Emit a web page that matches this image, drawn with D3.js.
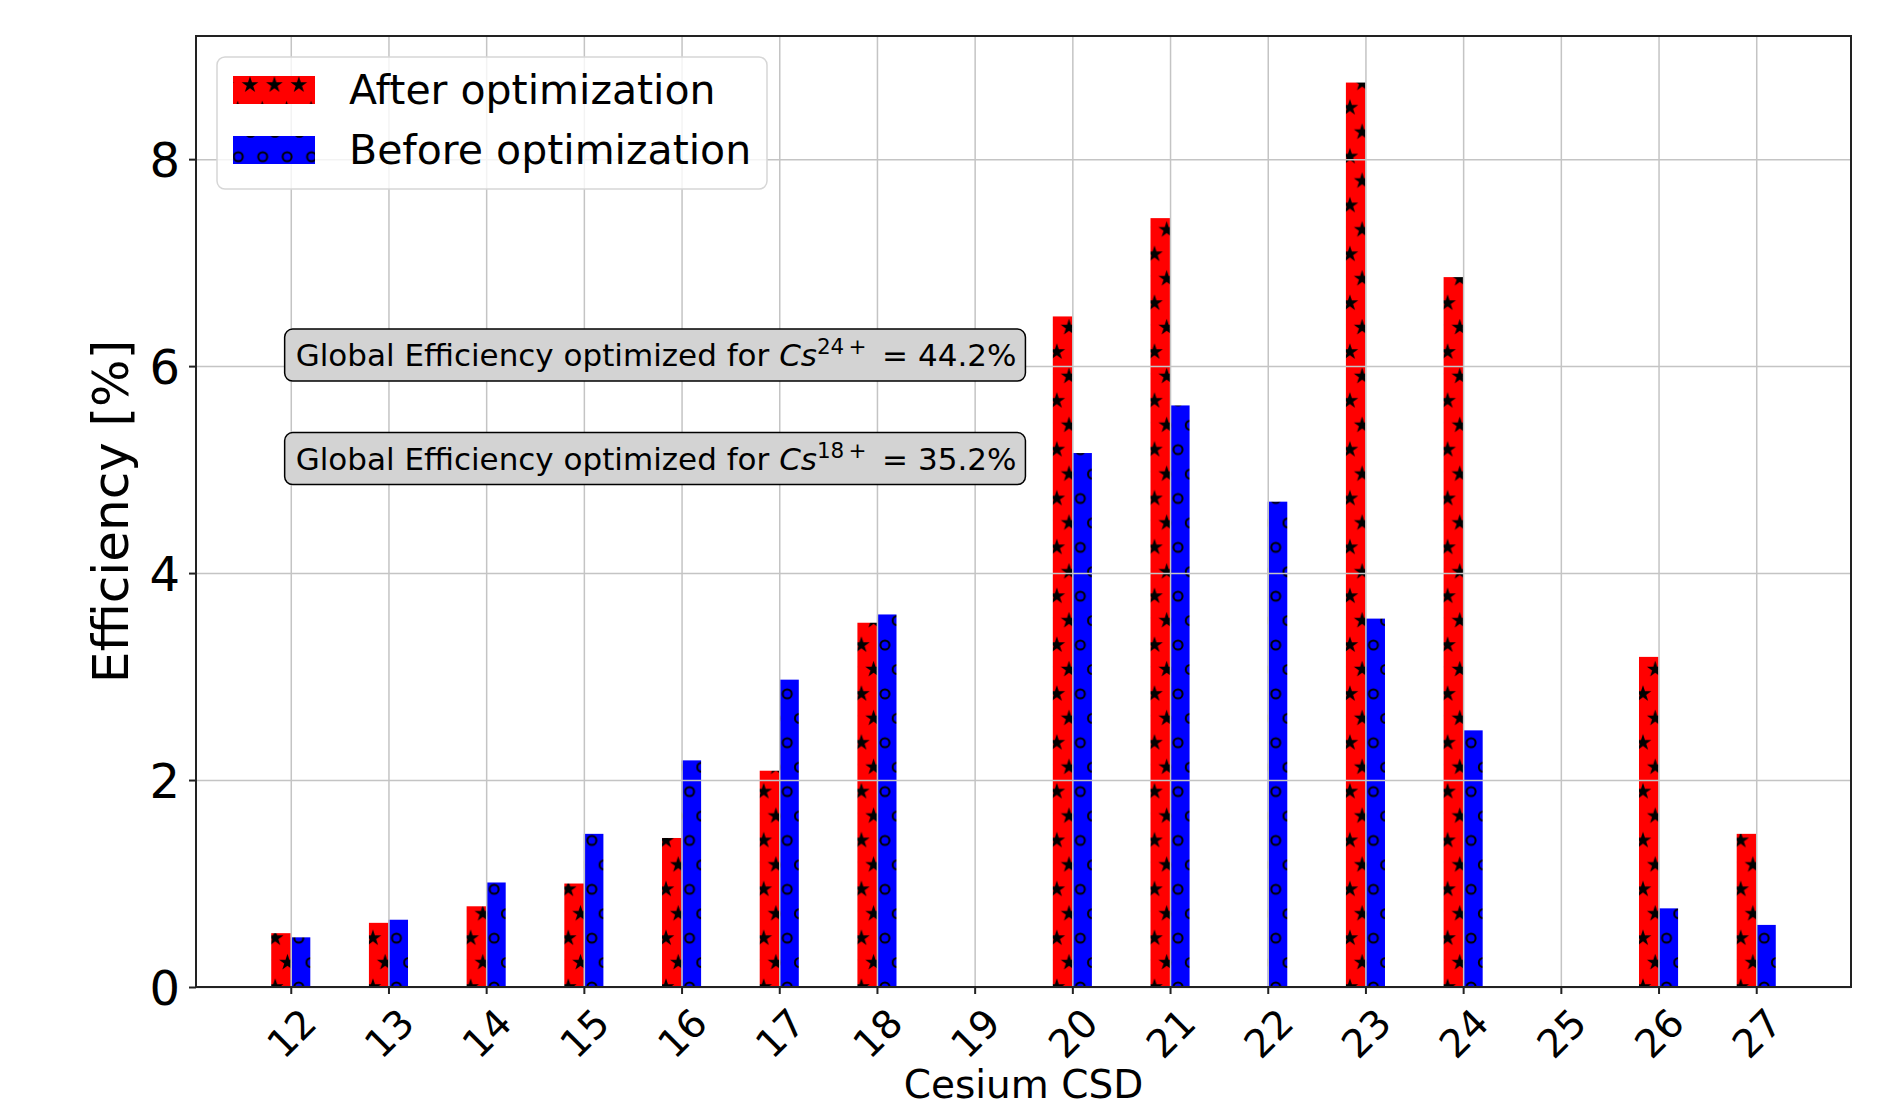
<!DOCTYPE html>
<meta charset="utf-8">
<style>
  body { margin: 0; background: #fff; }
  text { font-family: "DejaVu Sans", sans-serif; fill: #000; }
  .grid line { stroke: #c4c4c4; stroke-width: 1.5; }
  .grid path { display: none; }
  .axis path { display: none; }
  .axis line { stroke: #222; stroke-width: 2; }
</style>
<svg width="1888" height="1108"></svg>
<script src="https://d3js.org/d3.v7.min.js"></script>
<script>
// Data
var categories = [12, 13, 14, 15, 16, 17, 18, 19, 20, 21, 22, 23, 24, 25, 26, 27];
var afterOpt  = [0.52, 0.62, 0.78, 1.00, 1.44, 2.09, 3.52, 0, 6.48, 7.43, 0, 8.74, 6.86, 0, 3.19, 1.48];
var beforeOpt = [0.48, 0.65, 1.01, 1.48, 2.19, 2.97, 3.60, 0, 5.16, 5.62, 4.69, 3.56, 2.48, 0, 0.76, 0.60];
var yTicks = [0, 2, 4, 6, 8];
var seriesNames = ["After optimization", "Before optimization"];
var notes = [
  { sup: "24\u2009+", value: "44.2%", y: 6 },
  { sup: "18\u2009+", value: "35.2%", y: 5 }
];

var svg = d3.select("svg"),
    width = +svg.attr("width"),
    height = +svg.attr("height");

var margin = { left: 196, right: 37, top: 36, bottom: 121 };
var barW = 0.2;

var x = d3.scaleLinear()
    .domain([11.03, 27.97])
    .range([margin.left, width - margin.right]);
var y = d3.scaleLinear()
    .domain([0, 9.19])
    .range([height - margin.bottom, margin.top]);

// Hatch patterns (stars on red, rings on blue), one hatch cell = a quarter category
var defs = svg.append("defs");
var cell = (x(13) - x(12)) / 4;
var starPath = d3.symbol().type(d3.symbolStar).size(85)();

function hatch(id, ox, oy, kind) {
  var p = defs.append("pattern")
      .attr("id", id)
      .attr("patternUnits", "userSpaceOnUse")
      .attr("x", ox).attr("y", oy)
      .attr("width", cell).attr("height", 2 * cell);
  p.append("rect")
      .attr("width", cell).attr("height", 2 * cell)
      .attr("fill", kind === "star" ? "#ff0000" : "#0000ff");
  var pts = [[0, 0], [cell, 0], [0, 2 * cell], [cell, 2 * cell], [cell / 2, cell]];
  pts.forEach(function (d) {
    if (kind === "star") {
      p.append("path").attr("d", starPath)
          .attr("transform", "translate(" + d[0] + "," + d[1] + ")")
          .attr("fill", "#000");
    } else {
      p.append("circle").attr("cx", d[0]).attr("cy", d[1]).attr("r", 4.5)
          .attr("fill", "none").attr("stroke", "#000").attr("stroke-width", 2);
    }
  });
}
hatch("starFill", x(12 - barW) + 4, y(0), "star");
hatch("ringFill", x(12) + 8, y(0), "ring");
hatch("starLegend", 250, 85, "star");
hatch("ringLegend", 238.3, 107.9, "ring");

// Bars
var rows = categories.map(function (c, i) {
  return { cat: c, after: afterOpt[i], before: beforeOpt[i] };
});

svg.append("g").selectAll("rect")
    .data(rows.filter(function (d) { return d.after > 0; }))
  .enter().append("rect")
    .attr("x", function (d) { return x(d.cat - barW); })
    .attr("width", function (d) { return x(d.cat) - x(d.cat - barW); })
    .attr("y", function (d) { return y(d.after); })
    .attr("height", function (d) { return y(0) - y(d.after); })
    .attr("fill", "url(#starFill)");

svg.append("g").selectAll("rect")
    .data(rows.filter(function (d) { return d.before > 0; }))
  .enter().append("rect")
    .attr("x", function (d) { return x(d.cat); })
    .attr("width", function (d) { return x(d.cat + barW) - x(d.cat); })
    .attr("y", function (d) { return y(d.before); })
    .attr("height", function (d) { return y(0) - y(d.before); })
    .attr("fill", "url(#ringFill)");

// Grid (drawn over the bars, like the original)
svg.append("g")
    .attr("class", "grid")
    .attr("transform", "translate(0," + y(0) + ")")
    .call(d3.axisBottom(x).tickValues(categories)
      .tickSize(-(y(0) - y.range()[1])).tickFormat(""));
svg.append("g")
    .attr("class", "grid")
    .attr("transform", "translate(" + margin.left + ",0)")
    .call(d3.axisLeft(y).tickValues(yTicks)
      .tickSize(-(x.range()[1] - margin.left)).tickFormat(""));

// Axes
var xAxis = svg.append("g")
    .attr("class", "axis")
    .attr("transform", "translate(0," + y(0) + ")")
    .call(d3.axisBottom(x).tickValues(categories).tickSize(7).tickFormat(d3.format("d")));
xAxis.selectAll(".tick text")
    .attr("y", 0).attr("dy", "0.36em")
    .attr("text-anchor", "middle")
    .attr("transform", "translate(0,46) rotate(-45)")
    .style("font-size", "39px");

var yAxis = svg.append("g")
    .attr("class", "axis")
    .attr("transform", "translate(" + margin.left + ",0)")
    .call(d3.axisLeft(y).tickValues(yTicks).tickSize(7).tickPadding(9).tickFormat(d3.format("d")));
yAxis.selectAll(".tick text")
    .attr("dy", "0.36em")
    .style("font-size", "48px");

// Frame
svg.append("rect")
    .attr("x", margin.left).attr("y", margin.top)
    .attr("width", x.range()[1] - margin.left)
    .attr("height", y(0) - margin.top)
    .attr("fill", "none").attr("stroke", "#222").attr("stroke-width", 2);

// Axis labels
svg.append("text")
    .attr("x", (x.range()[0] + x.range()[1]) / 2)
    .attr("y", 1098)
    .attr("text-anchor", "middle")
    .style("font-size", "39px")
    .text("Cesium CSD");

svg.append("text")
    .attr("transform", "translate(128," + (y.range()[0] + y.range()[1]) / 2 + ") rotate(-90)")
    .attr("text-anchor", "middle")
    .style("font-size", "50px")
    .text("Efficiency [%]");

// Annotation boxes
notes.forEach(function (n) {
  var g = svg.append("g");
  var box = g.append("rect");
  var t = g.append("text")
      .attr("x", x(12.05))
      .attr("y", y(n.y))
      .style("font-size", "31px");
  t.append("tspan").text("Global Efficiency optimized for ");
  t.append("tspan").style("font-style", "italic").text("Cs");
  t.append("tspan").attr("dy", -12).style("font-size", "21.5px").text(n.sup);
  t.append("tspan").attr("dy", 12).text("\u2002= " + n.value);
  var bb = t.node().getBBox();
  box.attr("x", bb.x - 11).attr("y", y(n.y) - 37)
      .attr("width", bb.width + 20).attr("height", 52)
      .attr("rx", 8)
      .attr("fill", "#d3d3d3").attr("stroke", "#000").attr("stroke-width", 1.5);
});

// Legend
var lg = svg.append("g");
lg.append("rect")
    .attr("x", 217).attr("y", 57).attr("width", 550).attr("height", 132)
    .attr("rx", 8)
    .attr("fill", "#fff").attr("fill-opacity", 0.8)
    .attr("stroke", "#d6d6d6").attr("stroke-width", 1.5);
var legendFills = ["url(#starLegend)", "url(#ringLegend)"];
seriesNames.forEach(function (name, i) {
  lg.append("rect")
      .attr("x", 233).attr("y", 76 + i * 60)
      .attr("width", 82).attr("height", 28)
      .attr("fill", legendFills[i]);
  lg.append("text")
      .attr("x", 349).attr("y", 104 + i * 60)
      .style("font-size", "41px")
      .text(name);
});
</script>
